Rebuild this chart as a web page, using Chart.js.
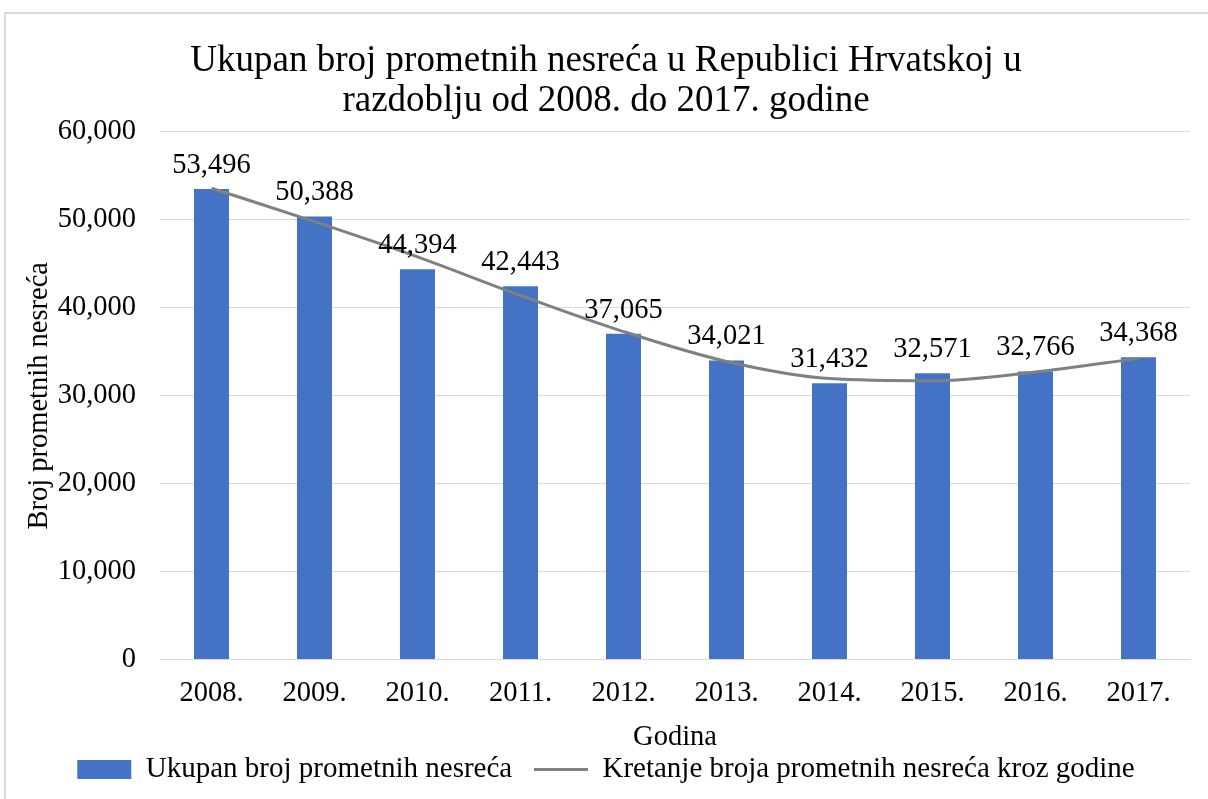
<!DOCTYPE html>
<html>
<head>
<meta charset="utf-8">
<script src="https://cdn.jsdelivr.net/npm/chart.js@4/dist/chart.umd.min.js"></script>
<style>
  html, body { margin: 0; padding: 0; background: #fff; }
  #wrap { width: 1208px; height: 799px; position: relative; }
</style>
</head>
<body>
<div id="wrap"><canvas id="chart"></canvas></div>
<script>
const years = ['2008.', '2009.', '2010.', '2011.', '2012.', '2013.', '2014.', '2015.', '2016.', '2017.']
const accidents = [53496, 50388, 44394, 42443, 37065, 34021, 31432, 32571, 32766, 34368]
// trend curve (smooth grey line)
const trend = [53600, 49800, 45800, 41400, 37300, 33900, 31950, 31700, 32700, 34250]
const yTicks = [0, 10000, 20000, 30000, 40000, 50000, 60000]

const FONT = "'Liberation Serif', 'Times New Roman', serif"
const fmt = v => v.toLocaleString('en-US')

// grey frame round the chart, like the exported Excel picture
const framePlugin = {
    id: 'frame',
    beforeDraw(chart) {
        const ctx = chart.ctx
        ctx.save()
        ctx.strokeStyle = '#d9d9d9'
        ctx.lineWidth = 2
        ctx.strokeRect(5, 13, 1400, 1000)
        ctx.restore()
    }
}

// value labels above the bars
const barLabels = {
    id: 'barLabels',
    afterDatasetsDraw(chart) {
        const ctx = chart.ctx
        const meta = chart.getDatasetMeta(0)
        ctx.save()
        ctx.font = `28.5px ${FONT}`
        ctx.fillStyle = '#000'
        ctx.textAlign = 'center'
        ctx.textBaseline = 'alphabetic'
        meta.data.forEach((bar, i) => {
            ctx.fillText(fmt(accidents[i]), bar.x, bar.y - 16)
        })
        ctx.restore()
    }
}

Chart.defaults.font.family = FONT
Chart.defaults.color = '#000'

const ctx = document.getElementById('chart').getContext('2d')
const chart = new Chart(ctx, {
    type: 'bar',
    data: {
        labels: years,
        datasets: [
            {
                type: 'bar',
                label: 'Ukupan broj prometnih nesreća',
                data: accidents,
                backgroundColor: '#4472C4',
                borderWidth: 0,
                barPercentage: 0.34,
                categoryPercentage: 1.0,
                pointStyle: 'rect',
                order: 2
            },
            {
                type: 'line',
                label: 'Kretanje broja prometnih nesreća kroz godine',
                data: trend,
                borderColor: '#808080',
                backgroundColor: '#808080',
                borderWidth: 3,
                pointRadius: 0,
                tension: 0.4,
                cubicInterpolationMode: 'monotone',
                pointStyle: 'line',
                order: 1
            }
        ]
    },
    options: {
        responsive: true,
        maintainAspectRatio: false,
        animation: false,
        layout: { padding: { left: 22, right: 18, top: 0, bottom: 5 } },
        plugins: {
            title: {
                display: true,
                text: ['Ukupan broj prometnih nesreća u Republici Hrvatskoj u', 'razdoblju od 2008. do 2017. godine'],
                font: { size: 37, weight: 'normal', family: FONT, lineHeight: 1.08 },
                color: '#000',
                padding: { top: 41, bottom: 11 }
            },
            legend: {
                position: 'bottom',
                labels: {
                    usePointStyle: true,
                    pointStyleWidth: 54,
                    boxHeight: 19,
                    font: { size: 29, family: FONT },
                    color: '#000',
                    padding: 0,
                    sort: (a, b) => a.datasetIndex - b.datasetIndex,
                    generateLabels(chart) {
                        const items = Chart.defaults.plugins.legend.labels.generateLabels(chart)
                        // leave a gap after the bar entry
                        items.forEach(it => { if (it.datasetIndex === 0) it.text += '   ' })
                        return items
                    }
                }
            },
            tooltip: { enabled: false }
        },
        scales: {
            x: {
                grid: { display: false },
                border: { color: '#d9d9d9', width: 1 },
                ticks: { font: { size: 28.5 }, color: '#000', padding: 9 },
                title: {
                    display: true,
                    text: 'Godina',
                    font: { size: 28.5, family: FONT },
                    color: '#000',
                    padding: { top: 1, bottom: 0 }
                }
            },
            y: {
                min: 0,
                max: 60000,
                afterBuildTicks(axis) {
                    axis.ticks = yTicks.map(v => ({ value: v }))
                },
                afterFit(axis) {
                    axis.width = 138
                },
                grid: { color: '#d9d9d9', lineWidth: 1, drawTicks: false },
                border: { display: false },
                ticks: {
                    font: { size: 28.5 },
                    color: '#000',
                    padding: 24,
                    callback: v => fmt(v)
                },
                title: {
                    display: true,
                    text: 'Broj prometnih nesreća',
                    font: { size: 28.5, family: FONT },
                    color: '#000',
                    padding: { top: 0, bottom: 0 }
                }
            }
        }
    },
    plugins: [framePlugin, barLabels]
})
</script>
</body>
</html>
